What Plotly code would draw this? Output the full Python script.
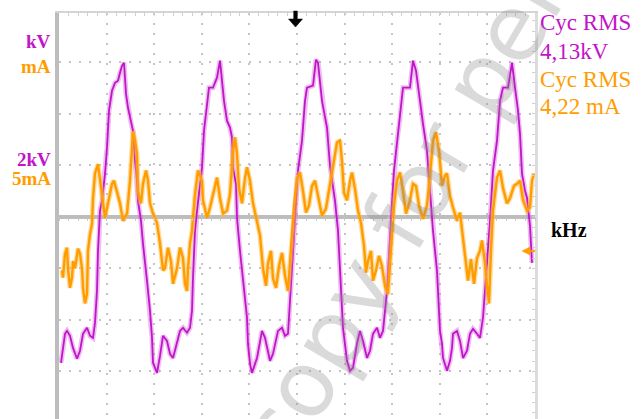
import plotly.graph_objects as go

# ---- Channel samples (time in ms) ----
t_kv = [
    0.01, 0.03, 0.05, 0.07, 0.10, 0.13, 0.17, 0.20, 0.23, 0.27,
    0.30, 0.33, 0.35, 0.37, 0.38, 0.40, 0.42, 0.45, 0.47, 0.49,
    0.52, 0.55, 0.58, 0.60, 0.62, 0.64, 0.66, 0.68, 0.71, 0.73,
    0.75, 0.77, 0.78, 0.81, 0.83, 0.85, 0.87, 0.90, 0.92, 0.93,
    0.97, 1.00, 1.03, 1.07, 1.10, 1.13, 1.17, 1.20, 1.23, 1.27,
    1.30, 1.32, 1.33, 1.35, 1.37, 1.42, 1.44, 1.47, 1.49, 1.53,
    1.57, 1.60, 1.62, 1.64, 1.67, 1.70, 1.72, 1.73, 1.76, 1.77,
    1.80, 1.83, 1.87, 1.88, 1.90, 1.92, 1.97, 2.02, 2.05, 2.10,
    2.13, 2.18, 2.22, 2.25, 2.28, 2.30, 2.32, 2.35, 2.38, 2.42,
    2.45, 2.47, 2.53, 2.56, 2.58, 2.62, 2.65, 2.67, 2.70, 2.75,
    2.78, 2.80, 2.83, 2.87, 2.90, 2.93, 2.97, 3.00, 3.03, 3.07,
    3.10, 3.13, 3.17, 3.20, 3.23, 3.27, 3.28, 3.31, 3.34, 3.37,
    3.40, 3.43, 3.50, 3.53, 3.56, 3.60, 3.63, 3.67, 3.70, 3.73,
    3.77, 3.80, 3.82, 3.83, 3.87, 3.90, 3.92, 3.93, 3.97, 4.00,
    4.03, 4.07, 4.10, 4.13, 4.17, 4.20, 4.23, 4.25, 4.27, 4.30,
    4.33, 4.37, 4.40, 4.43, 4.48, 4.52, 4.55, 4.58, 4.60, 4.62,
    4.65, 4.67, 4.68, 4.70, 4.72,
]
kv = [
    -5.67, -5.09, -4.54, -4.43, -4.62, -5.09, -5.51, -5.20, -4.54, -4.31,
    -4.62, -4.70, -4.12, -2.87, -1.32, 0.23, 0.62, 1.67, 2.68, 4.12,
    4.89, 5.20, 5.28, 5.59, 5.86, 5.98, 4.78, 4.23, 3.65, 3.34,
    2.17, 1.40, 0.62, -0.16, -1.05, -1.71, -2.49, -3.65, -4.70, -5.67,
    -6.06, -5.40, -4.62, -4.82, -5.32, -5.48, -4.93, -4.43, -4.31, -4.50,
    -4.31, -3.65, -2.37, -0.54, 0.23, 1.90, 3.34, 4.23, 5.01, 5.01,
    5.40, 6.06, 5.17, 4.50, 3.73, 3.46, 3.07, 1.90, 1.28, -0.04,
    -1.32, -2.37, -3.92, -4.93, -5.71, -6.06, -5.48, -4.43, -4.70, -5.59,
    -5.32, -4.43, -4.31, -4.62, -4.54, -3.26, -2.10, -0.16, 1.79, 2.95,
    4.50, 5.01, 5.09, 6.10, 5.98, 4.50, 3.84, 3.46, 1.98, 0.62,
    -0.54, -2.10, -4.31, -5.59, -5.98, -5.86, -4.93, -4.43, -4.82, -5.48,
    -5.20, -4.54, -4.31, -4.70, -4.43, -2.87, -2.10, -0.16, 1.79, 2.95,
    3.84, 5.01, 5.01, 6.06, 5.67, 4.39, 3.61, 2.56, 1.01, -0.54,
    -2.10, -4.43, -4.93, -5.48, -5.98, -5.59, -5.09, -4.54, -4.43, -4.82,
    -5.48, -5.20, -4.54, -4.35, -4.54, -4.70, -3.92, -2.87, -2.10, -0.16,
    1.79, 2.95, 4.50, 5.01, 5.01, 5.98, 5.01, 4.12, 3.22, 1.67,
    1.01, 0.74, 0.35, -0.35, -1.79,
]

t_ma = [
    0.02, 0.03, 0.05, 0.07, 0.08, 0.10, 0.12, 0.13, 0.15, 0.18,
    0.20, 0.22, 0.23, 0.25, 0.27, 0.28, 0.30, 0.32, 0.33, 0.35,
    0.38, 0.40, 0.42, 0.43, 0.45, 0.48, 0.52, 0.54, 0.57, 0.60,
    0.63, 0.67, 0.70, 0.72, 0.73, 0.75, 0.77, 0.78, 0.81, 0.83,
    0.86, 0.88, 0.90, 0.93, 0.97, 1.00, 1.03, 1.05, 1.08, 1.11,
    1.13, 1.17, 1.20, 1.23, 1.25, 1.27, 1.28, 1.30, 1.32, 1.33,
    1.35, 1.38, 1.42, 1.43, 1.47, 1.50, 1.53, 1.57, 1.60, 1.63,
    1.67, 1.70, 1.73, 1.75, 1.77, 1.79, 1.82, 1.85, 1.87, 1.90,
    1.93, 1.97, 2.00, 2.03, 2.06, 2.08, 2.11, 2.13, 2.16, 2.19,
    2.22, 2.25, 2.28, 2.30, 2.32, 2.34, 2.37, 2.40, 2.43, 2.46,
    2.49, 2.52, 2.55, 2.58, 2.62, 2.66, 2.70, 2.74, 2.77, 2.80,
    2.82, 2.84, 2.87, 2.90, 2.92, 2.95, 2.98, 3.01, 3.04, 3.06,
    3.08, 3.11, 3.13, 3.16, 3.19, 3.22, 3.25, 3.28, 3.30, 3.32,
    3.34, 3.37, 3.40, 3.43, 3.46, 3.50, 3.53, 3.56, 3.59, 3.63,
    3.67, 3.70, 3.73, 3.76, 3.79, 3.82, 3.85, 3.87, 3.90, 3.93,
    3.97, 4.00, 4.03, 4.06, 4.08, 4.11, 4.14, 4.17, 4.20, 4.22,
    4.25, 4.27, 4.29, 4.31, 4.33, 4.37, 4.40, 4.43, 4.47, 4.50,
    4.54, 4.57, 4.60, 4.63, 4.67, 4.70, 4.72, 4.74,
]
ma = [
    -5.2, -5.9, -3.6, -3.0, -5.0, -6.9, -5.9, -4.3, -5.0, -3.1,
    -3.6, -5.0, -6.9, -8.4, -7.5, -3.3, -1.7, -0.7, 1.8, 4.2,
    5.1, 3.5, 1.8, 0.9, -0.1, 1.3, 3.2, 3.5, 2.5, 1.3,
    -0.4, 0.3, 3.5, 6.4, 8.3, 7.4, 6.1, 2.5, 1.3, 3.2,
    4.5, 3.5, 1.3, 0.3, -0.6, -2.6, -5.2, -5.0, -3.0, -4.3,
    -6.5, -5.0, -3.0, -4.0, -6.5, -7.2, -5.0, -2.6, -1.4, -0.1,
    2.2, 4.5, 3.5, 1.6, -0.1, 0.9, 2.2, 3.8, 1.8, 0.3,
    0.6, 2.2, 6.4, 7.7, 6.1, 2.8, 1.3, 3.8, 4.8, 3.5,
    1.3, -0.4, -1.8, -5.0, -6.7, -4.5, -3.3, -6.0, -6.9, -4.8,
    -3.5, -5.7, -7.2, -4.5, -1.8, 1.1, 3.7, 4.3, 2.5, 0.4,
    1.1, 3.0, 3.5, 2.0, 0.1, 0.8, 3.0, 5.4, 7.2, 7.4,
    5.4, 2.3, 1.6, 3.5, 4.3, 2.7, 0.6, -0.6, -2.8, -5.4,
    -4.3, -3.3, -6.2, -5.2, -3.8, -4.8, -6.7, -7.5, -4.5, -1.6,
    1.1, 3.5, 4.3, 2.5, 0.3, 1.6, 3.2, 3.0, 1.1, -0.2,
    1.1, 4.0, 7.4, 8.2, 6.4, 3.0, 4.0, 4.2, 2.0, 0.9,
    -0.4, 0.4, -2.3, -4.5, -6.2, -4.1, -6.5, -4.0, -3.3, -2.3,
    -4.5, -6.7, -8.4, -3.3, 0.6, 3.8, 4.5, 2.8, 1.3, 1.8,
    3.0, 3.2, 3.5, 1.6, 0.6, 0.9, 3.5, 4.2,
]

# Readout texts
kv_rms_label = "4,13kV"
ma_rms_label = "4,22 mA"
kv_scale_label = "2kV"
ma_scale_label = "5mA"

# ---- Styling ----
KV_COLOR = "#c214c8"
KV_HALO = "rgba(215,110,225,0.45)"
MA_COLOR = "#ff9d00"
MA_HALO = "rgba(255,185,70,0.50)"
GRID = "#c4c4c4"
FRAME = "#bdbdbd"
SERIF = "Liberation Serif"

T_RANGE = [-0.01, 4.75]
T_DIV = 0.476
KV_RANGE = [-7.85, 7.91]
MA_RANGE = [-19.62, 19.77]

fig = go.Figure()

# voltage channel: soft halo + core trace
fig.add_trace(go.Scatter(x=t_kv, y=kv, mode="lines", line=dict(color=KV_HALO, width=5),
                         hoverinfo="skip", showlegend=False))
fig.add_trace(go.Scatter(x=t_kv, y=kv, mode="lines", line=dict(color=KV_COLOR, width=1.8),
                         name="kV", showlegend=False))
# current channel on its own scale
fig.add_trace(go.Scatter(x=t_ma, y=ma, mode="lines", yaxis="y2",
                         line=dict(color=MA_HALO, width=5), hoverinfo="skip", showlegend=False))
fig.add_trace(go.Scatter(x=t_ma, y=ma, mode="lines", yaxis="y2",
                         line=dict(color=MA_COLOR, width=2.4), name="mA", showlegend=False))
# carrier for the centre tick axis
fig.add_trace(go.Scatter(x=[None], y=[None], xaxis="x2", showlegend=False, hoverinfo="skip"))

fig.update_layout(
    width=641, height=419,
    margin=dict(l=59, r=106, t=13, b=0),
    paper_bgcolor="white", plot_bgcolor="white",
    showlegend=False,
    xaxis=dict(
        range=T_RANGE, tick0=T_RANGE[0], dtick=T_DIV, side="top",
        showgrid=True, gridcolor=GRID, griddash="2px,8px", gridwidth=1.5,
        showticklabels=False, zeroline=False,
        showline=True, linecolor="#d4d4d4", linewidth=1.5,
        ticks="inside", ticklen=3, tickcolor="#cfcfcf",
        minor=dict(dtick=T_DIV / 5, tick0=T_RANGE[0], ticks="inside", ticklen=3,
                   tickcolor="#cfcfcf", showgrid=False),
    ),
    xaxis2=dict(
        range=T_RANGE, overlaying="x", anchor="free",
        position=(0 - KV_RANGE[0]) / (KV_RANGE[1] - KV_RANGE[0]),
        side="bottom", showgrid=False, showline=False, zeroline=False,
        showticklabels=False, tick0=T_RANGE[0], dtick=T_DIV,
        ticks="outside", ticklen=3, tickcolor="#c8c8c8",
        minor=dict(dtick=T_DIV / 5, tick0=T_RANGE[0], ticks="outside", ticklen=3,
                   tickcolor="#c8c8c8", showgrid=False),
    ),
    yaxis=dict(
        range=KV_RANGE, dtick=2, tick0=0,
        showgrid=True, gridcolor=GRID, griddash="2px,8px", gridwidth=1.5,
        showticklabels=False, ticks="",
        zeroline=True, zerolinecolor=FRAME, zerolinewidth=4,
        showline=True, linecolor=FRAME, linewidth=4,
    ),
    yaxis2=dict(
        range=MA_RANGE, overlaying="y", side="right",
        showgrid=False, zeroline=False, showticklabels=False,
        showline=True, linecolor="#dcdcdc", linewidth=2.5,
        ticks="inside", ticklen=3, tickcolor="#cfcfcf", dtick=5, tick0=0,
        minor=dict(dtick=1, ticks="inside", ticklen=3, tickcolor="#cfcfcf", showgrid=False),
    ),
)

# pixel helpers for readout placement around the 476x406 plot box
def px_x(px):
    return (px - 59) / 476.0


def px_y(py):
    return (419 - py) / 406.0


left_labels = [("kV", KV_COLOR, 42), ("mA", MA_COLOR, 66),
               (kv_scale_label, KV_COLOR, 159), (ma_scale_label, MA_COLOR, 178)]
for txt, col, py in left_labels:
    fig.add_annotation(text=f"<b>{txt}</b>", x=px_x(52), y=px_y(py), xref="paper", yref="paper",
                       xanchor="right", yanchor="middle", showarrow=False, borderpad=0,
                       font=dict(family=SERIF, size=19, color=col))

right_labels = [("Cyc RMS", KV_COLOR, 23), (kv_rms_label, KV_COLOR, 51),
                ("Cyc RMS", MA_COLOR, 80), (ma_rms_label, MA_COLOR, 106)]
for txt, col, py in right_labels:
    fig.add_annotation(text=txt, x=px_x(538), y=px_y(py), xref="paper", yref="paper",
                       xanchor="left", yanchor="middle", showarrow=False,
                       font=dict(family=SERIF, size=23, color=col))

fig.add_annotation(text="<b>kHz</b>", x=px_x(549), y=px_y(230), xref="paper", yref="paper",
                   xanchor="left", yanchor="middle", showarrow=False,
                   font=dict(family=SERIF, size=20, color="black"))

# trigger position marker at the top edge
fig.add_shape(type="path", xref="paper", yref="paper", xsizemode="pixel", ysizemode="pixel",
              xanchor=px_x(295.5), yanchor=1.0,
              path="M -1.8,2 L 1.8,2 L 1.8,-6 L 7,-6 L 0,-14 L -7,-6 L -1.8,-6 Z",
              fillcolor="black", line=dict(color="black", width=0.5))
# current channel ground marker on the right edge
fig.add_shape(type="path", xref="paper", yref="paper", xsizemode="pixel", ysizemode="pixel",
              xanchor=px_x(530), yanchor=px_y(251),
              path="M -8,0 L 0,4 L 0,-4 Z M 0,-0.8 L 5,-0.8 L 5,0.8 L 0,0.8 Z",
              fillcolor=MA_COLOR, line=dict(color=MA_COLOR, width=0.5))

# diagonal watermark
fig.add_annotation(text="copy for personal use", x=px_x(514), y=px_y(27), xref="paper", yref="paper",
                   xanchor="center", yanchor="middle", showarrow=False, textangle=-59.5,
                   font=dict(family="DejaVu Sans", size=92, color="rgba(140,140,140,0.32)"))

fig.write_html("out.html")
